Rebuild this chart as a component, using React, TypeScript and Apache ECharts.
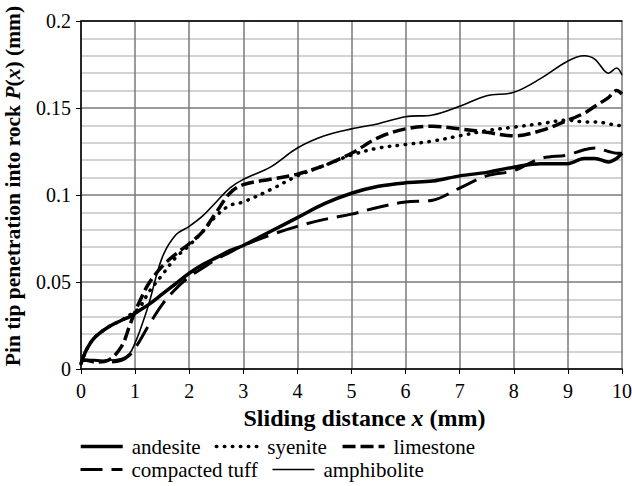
import React, { useEffect, useRef } from "react";
import * as echarts from "echarts";

// Sliding distance x (mm) sampled for every curve
const distance = [0, 0.1, 0.25, 0.5, 0.75, 0.9, 1, 1.1, 1.25, 1.5, 1.75, 2, 2.25, 2.5, 2.75, 3, 3.5, 4, 4.5, 5, 5.5, 6, 6.5, 7, 7.5, 8, 8.5, 9, 9.3, 9.5, 9.75, 9.9, 10];

// Pin tip penetration P(x) (mm)
const andesite = [0.003, 0.011, 0.018, 0.024, 0.028, 0.030, 0.032, 0.034, 0.037, 0.043, 0.049, 0.055, 0.060, 0.064, 0.068, 0.071, 0.079, 0.087, 0.095, 0.101, 0.105, 0.107, 0.108, 0.111, 0.113, 0.116, 0.118, 0.118, 0.121, 0.121, 0.119, 0.121, 0.124];
const syenite = [0.003, 0.011, 0.018, 0.024, 0.028, 0.031, 0.033, 0.036, 0.044, 0.054, 0.064, 0.071, 0.079, 0.088, 0.094, 0.096, 0.103, 0.111, 0.117, 0.123, 0.127, 0.129, 0.131, 0.134, 0.137, 0.139, 0.141, 0.143, 0.142, 0.142, 0.141, 0.140, 0.140];
const limestone = [0.005, 0.005, 0.004, 0.005, 0.013, 0.025, 0.033, 0.040, 0.049, 0.059, 0.066, 0.072, 0.079, 0.090, 0.101, 0.106, 0.109, 0.112, 0.117, 0.124, 0.133, 0.138, 0.1395, 0.138, 0.136, 0.134, 0.137, 0.143, 0.147, 0.151, 0.156, 0.160, 0.158];
const compactedTuff = [0.005, 0.005, 0.005, 0.004, 0.005, 0.008, 0.012, 0.017, 0.025, 0.037, 0.046, 0.053, 0.058, 0.063, 0.067, 0.071, 0.077, 0.082, 0.086, 0.089, 0.093, 0.096, 0.097, 0.104, 0.111, 0.114, 0.121, 0.123, 0.126, 0.127, 0.125, 0.124, 0.124];
const amphibolite = [0.005, 0.005, 0.005, 0.005, 0.006, 0.009, 0.015, 0.023, 0.037, 0.064, 0.077, 0.082, 0.088, 0.096, 0.104, 0.109, 0.116, 0.127, 0.134, 0.138, 0.141, 0.145, 0.146, 0.151, 0.157, 0.159, 0.167, 0.177, 0.180, 0.178, 0.170, 0.173, 0.169];

const legendRow1 = ["andesite", "syenite", "limestone"];
const legendRow2 = ["compacted tuff", "amphibolite"];

const SERIF = "Times New Roman";

const pairs = (ys: number[]) => distance.map((x, i) => [x, ys[i]]);

export default function App() {
  const ref = useRef<HTMLDivElement>(null);

  useEffect(() => {
    if (!ref.current) return;
    const chart = echarts.init(ref.current, null, { renderer: "svg" });

    const line = (name: string, ys: number[], lineStyle: any) => ({
      name,
      type: "line",
      data: pairs(ys),
      smooth: 0.35,
      symbol: "none",
      lineStyle: { color: "#000", ...lineStyle },
      itemStyle: { color: "#000" },
      z: 3,
    });

    const xTitle = {
      b: { fontFamily: SERIF, fontWeight: "bold", fontSize: 24, color: "#000" },
      bi: { fontFamily: SERIF, fontWeight: "bold", fontStyle: "italic", fontSize: 24, color: "#000" },
    };
    const yTitle = {
      b: { ...xTitle.b, fontSize: 21.5 },
      bi: { ...xTitle.bi, fontSize: 21.5 },
    };

    const legendBase = {
      itemWidth: 42,
      itemHeight: 22,
      itemGap: 14,
      itemStyle: { color: "rgba(0,0,0,0)", borderColor: "rgba(0,0,0,0)", borderWidth: 0, opacity: 0 },
      lineStyle: { width: "inherit" },
      textStyle: { fontFamily: SERIF, fontSize: 21, color: "#000", padding: [0, 0, 0, 4] },
      selectedMode: false,
    };

    chart.setOption({
      animation: false,
      backgroundColor: "#fff",
      grid: { left: 81, right: 10, top: 21, bottom: 117, outerBoundsMode: "none", containLabel: false },
      legend: [
        { ...legendBase, data: legendRow1, left: 74, top: 431 },
        { ...legendBase, data: legendRow2, left: 74, top: 454 },
      ],
      xAxis: [
        {
          type: "value",
          min: 0,
          max: 10,
          interval: 1,
          name: "{b|Sliding distance }{bi|x}{b| (mm)}",
          nameLocation: "middle",
          nameGap: 35,
          nameTextStyle: { rich: xTitle, padding: [0, 0, 0, 26] },
          axisLine: { lineStyle: { color: "#000", width: 1.5 } },
          axisTick: { show: true, length: 5, lineStyle: { color: "#000" } },
          axisLabel: { fontFamily: SERIF, fontSize: 20, color: "#000", margin: 12 },
          splitLine: { show: true, lineStyle: { color: "#7a7a7a", width: 1.5 } },
        },
        {
          type: "value",
          position: "top",
          min: 0,
          max: 10,
          interval: 1,
          axisLine: { show: true, lineStyle: { color: "#000", width: 1.5 } },
          axisTick: { show: false },
          axisLabel: { show: false },
          splitLine: { show: false },
        },
      ],
      yAxis: {
        type: "value",
        min: 0,
        max: 0.2,
        interval: 0.05,
        name: "{b|Pin tip penetration into rock }{bi|P}{b|(}{bi|x}{b|) (mm)}",
        nameLocation: "middle",
        nameRotate: 90,
        nameGap: 57,
        nameTextStyle: { rich: yTitle, padding: [0, 0, 0, 18] },
        axisLine: { show: true, lineStyle: { color: "#000", width: 1.5 } },
        axisTick: { show: true, length: 5, lineStyle: { color: "#000" } },
        axisLabel: { fontFamily: SERIF, fontSize: 20, color: "#000", margin: 10 },
        splitLine: { show: true, lineStyle: { color: "#7a7a7a", width: 1.5 } },
        minorTick: { show: false, splitNumber: 5 },
        minorSplitLine: { show: true, lineStyle: { color: "#c4c4c4", width: 1.5 } },
      },
      series: [
        line("andesite", andesite, { width: 3.5, type: "solid" }),
        line("syenite", syenite, { width: 3.5, type: [0.5, 7.5], cap: "round" }),
        line("limestone", limestone, { width: 3.5, type: [13, 5] }),
        line("compacted tuff", compactedTuff, { width: 3, type: [22, 9] }),
        line("amphibolite", amphibolite, { width: 1.6, type: "solid" }),
      ],
    });

    return () => chart.dispose();
  }, []);

  return (
    <div
      ref={ref}
      style={{ position: "fixed", left: 0, top: 0, width: 632, height: 486, background: "#fff" }}
    />
  );
}
